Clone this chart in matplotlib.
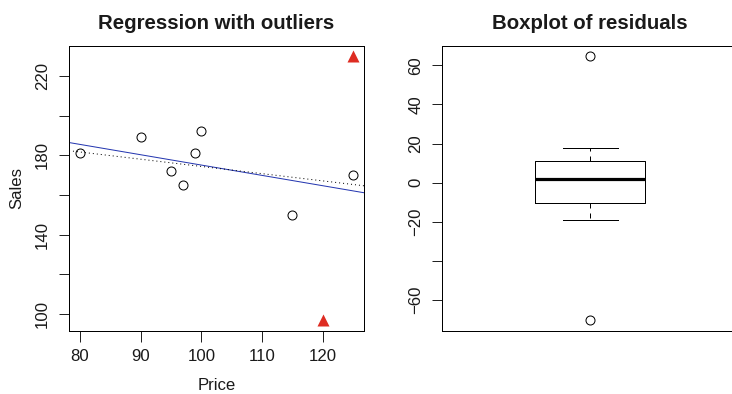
import numpy as np
import matplotlib
matplotlib.use("Agg")
import matplotlib.pyplot as plt

# Price / sales observations
price = [80, 90, 95, 97, 99, 100, 115, 125]
sales = [181, 189, 172, 165, 181, 192, 150, 170]
# the two outlying observations
out_price = [120, 125]
out_sales = [97, 230]

x_ticks = [80, 90, 100, 110, 120]
x_ticklabels = ["80", "90", "100", "110", "120"]
y_ticks = [100, 120, 140, 160, 180, 200, 220]
y_ticklabels = ["100", "", "140", "", "180", "", "220"]
res_ticks = [-60, -40, -20, 0, 20, 40, 60]
res_ticklabels = ["\u221260", "", "\u221220", "0", "20", "40", "60"]

plt.rcParams["font.family"] = ["Liberation Sans", "DejaVu Sans"]
DPI = 100
PX = 72.0 / DPI  # points per pixel
FS = 16.8 * PX
TITLE_FS = 20.4 * PX
LW = 1.0 * PX


def rlim(vals):
    lo, hi = float(np.min(vals)), float(np.max(vals))
    d = 0.04 * (hi - lo)
    return lo - d, hi + d


def style(ax):
    for s in ax.spines.values():
        s.set_linewidth(LW)
        s.set_color("black")
    ax.tick_params(length=10.5 * PX, width=LW, color="#222222",
                   labelsize=FS, labelcolor="#1a1a1a")
    ax.tick_params(axis="x", pad=8 * PX)
    ax.tick_params(axis="y", pad=8.5 * PX)


fig = plt.figure(figsize=(732 / DPI, 394 / DPI), dpi=DPI)
bottom = (394 - 330.5) / 394
height = 285 / 394
ax1 = fig.add_axes([69 / 732, bottom, 295 / 732, height])
ax2 = fig.add_axes([442.3 / 732, bottom, 296 / 732, height])

# ---- regression panel ----
all_price = np.array(price + out_price, dtype=float)
all_sales = np.array(sales + out_sales, dtype=float)

b_clean, a_clean = np.polyfit(price, sales, 1)
b_all, a_all = np.polyfit(all_price, all_sales, 1)

ax1.set_xlim(*rlim(all_price))
ax1.set_ylim(*rlim(all_sales))
ax1.axline((0, a_clean), slope=b_clean, color="#2436b0", lw=LW)
ax1.axline((0, a_all), slope=b_all, color="black", lw=LW,
           linestyle=(0, (1, 3)))
ax1.plot(price, sales, "o", mfc="none", mec="black", mew=LW,
         ms=9 * PX, zorder=3)
ax1.plot(out_price, out_sales, "^", color="#de2c22", mec="none",
         ms=12 * PX, zorder=3)

ax1.set_xticks(x_ticks, x_ticklabels)
ax1.set_yticks(y_ticks, y_ticklabels)
style(ax1)
for t in ax1.get_yticklabels():
    t.set_rotation(90)
    t.set_va("center")
ax1.set_xlabel("Price", fontsize=FS, labelpad=14 * PX, color="#1a1a1a")
ax1.set_ylabel("Sales", fontsize=FS, labelpad=11 * PX, color="#1a1a1a")
ax1.set_title("Regression with outliers", fontsize=TITLE_FS,
              fontweight="bold", pad=16.5 * PX, color="#1a1a1a")

# ---- residual boxplot ----
resid = all_sales - (a_all + b_all * all_price)
r = np.sort(resid)
n = len(r)
# Tukey five-number summary
n4 = np.floor((n + 3) / 2) / 2
idx = np.array([1, n4, (n + 1) / 2, n + 1 - n4, n]) - 1
five = 0.5 * (r[np.floor(idx).astype(int)] + r[np.ceil(idx).astype(int)])
q1, med, q3 = five[1], five[2], five[3]
iqr = q3 - q1
inside = r[(r >= q1 - 1.5 * iqr) & (r <= q3 + 1.5 * iqr)]
fliers = r[(r < q1 - 1.5 * iqr) | (r > q3 + 1.5 * iqr)]
stats = [dict(med=med, q1=q1, q3=q3, whislo=inside.min(),
              whishi=inside.max(), fliers=fliers)]

ax2.bxp(stats, positions=[1], widths=0.4, capwidths=[0.2],
        boxprops=dict(color="black", lw=LW),
        whiskerprops=dict(color="black", lw=LW, linestyle=(0, (5, 5))),
        capprops=dict(color="black", lw=LW),
        medianprops=dict(color="black", lw=3.2 * PX, solid_capstyle="butt"),
        flierprops=dict(marker="o", mfc="none", mec="black", mew=LW,
                        ms=9 * PX))
ax2.set_xlim(0.46, 1.54)
ax2.set_ylim(*rlim(resid))
ax2.set_xticks([])
ax2.set_yticks(res_ticks, res_ticklabels)
style(ax2)
for t in ax2.get_yticklabels():
    t.set_rotation(90)
    t.set_va("center")
ax2.set_title("Boxplot of residuals", fontsize=TITLE_FS,
              fontweight="bold", pad=16.5 * PX, color="#1a1a1a")

fig.savefig("out.png", dpi=DPI)
